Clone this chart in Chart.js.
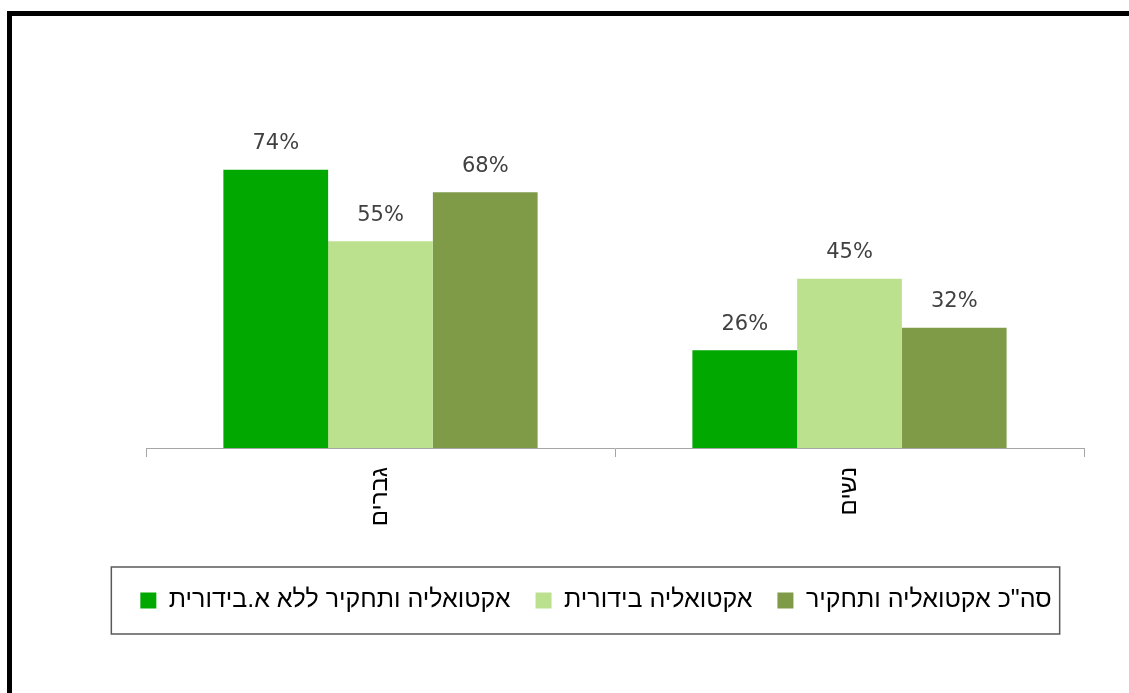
<!DOCTYPE html>
<html>
<head>
<meta charset="utf-8">
<script src="https://cdn.jsdelivr.net/npm/chart.js@4"></script>
<style>
  html, body { margin: 0; padding: 0; background: #fff; overflow: hidden; }
  #wrap { position: relative; width: 1129px; height: 693px; overflow: hidden; }
  #frame { position: absolute; left: 7px; top: 11px; width: 1200px; height: 800px;
           border-top: 5px solid #000; border-left: 5px solid #000; }
  canvas { position: absolute; left: 0; top: 0; }
</style>
</head>
<body>
<div id="wrap">
  <div id="frame"></div>
  <canvas id="groupsChart" width="1129" height="693" style="width:1129px;height:693px"></canvas>
</div>
<script>
// categories and series (percent)
const categories = ['גברים', 'נשים'];
const seriesNames = ['אקטואליה ותחקיר ללא א.בידורית', 'אקטואליה בידורית', 'סה"כ אקטואליה ותחקיר'];
const newsNoEntertainment = [74, 26];
const entertainmentNews = [55, 45];
const totalNews = [68, 32];
const seriesColors = ['#00A800', '#BBE08E', '#7F9B48'];

Chart.defaults.font.family = '"DejaVu Sans", sans-serif';
const hebrewFont = '"Liberation Sans", "DejaVu Sans", sans-serif';

// value labels above bars
const valueLabels = {
    id: 'valueLabels',
    afterDatasetsDraw(chart) {
        const ctx = chart.ctx;
        ctx.save();
        ctx.font = '21px "DejaVu Sans", sans-serif';
        ctx.fillStyle = '#404040';
        ctx.textAlign = 'center';
        ctx.textBaseline = 'middle';
        chart.data.datasets.forEach((ds, i) => {
            chart.getDatasetMeta(i).data.forEach((bar, j) => {
                ctx.fillText(ds.data[j] + '%', bar.x, bar.y - 26);
            });
        });
        ctx.restore();
    }
};

// frame around the legend
const legendFrame = {
    id: 'legendFrame',
    afterDraw(chart) {
        const boxes = chart.legend.legendHitBoxes;
        if (!boxes || !boxes.length) return;
        const left = Math.min(...boxes.map(b => b.left)) - 29;
        const right = Math.max(...boxes.map(b => b.left + b.width)) + 8;
        const top = boxes[0].top - 21;
        const bottom = boxes[0].top + boxes[0].height + 21;
        const ctx = chart.ctx;
        ctx.save();
        ctx.strokeStyle = '#5a5a5a';
        ctx.lineWidth = 1.5;
        ctx.strokeRect(left, top, right - left, bottom - top);
        ctx.restore();
    }
};

const data = {
    labels: categories,
    datasets: [
        { label: seriesNames[0], data: newsNoEntertainment, backgroundColor: seriesColors[0] },
        { label: seriesNames[1], data: entertainmentNews, backgroundColor: seriesColors[1] },
        { label: seriesNames[2], data: totalNews, backgroundColor: seriesColors[2] }
    ]
};

const config = {
    type: 'bar',
    data: data,
    options: {
        responsive: false,
        animation: false,
        categoryPercentage: 0.67,
        barPercentage: 1,
        layout: { padding: { left: 108, right: 45, top: 72, bottom: 70 } },
        scales: {
            x: {
                grid: { offset: true, drawOnChartArea: false, drawTicks: true, tickLength: 9, color: '#a6a6a6' },
                border: { display: true, color: '#a6a6a6', width: 1 },
                ticks: { minRotation: 90, maxRotation: 90, padding: 10, color: '#000', font: { family: hebrewFont, size: 24 } },
                afterFit: s => { s.height = 115; }
            },
            y: {
                min: 0,
                max: 100,
                grid: { display: false, drawTicks: false },
                border: { display: false },
                ticks: { display: false },
                afterFit: s => { s.width = 38; }
            }
        },
        plugins: {
            legend: {
                position: 'bottom',
                labels: { boxWidth: 16, boxHeight: 16, padding: 25, color: '#000', font: { family: hebrewFont, size: 25 } }
            },
            tooltip: { enabled: false }
        }
    },
    plugins: [valueLabels, legendFrame]
};

const ctx = document.getElementById('groupsChart').getContext('2d');
const groupsChart = new Chart(ctx, config);
</script>
</body>
</html>
